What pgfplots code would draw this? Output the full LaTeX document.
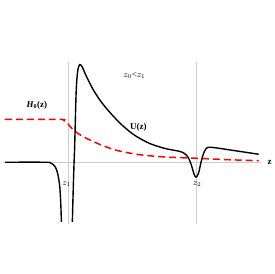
\documentclass[border=0pt]{standalone}
\usepackage{pgfplots}
\pgfplotsset{compat=1.18}
\usepackage{fontspec}
\setmainfont{Liberation Serif}
\begin{document}
\begin{tikzpicture}
\begin{axis}[hide axis, scale only axis, width=275pt, height=275pt,
  xmin=0, xmax=275, ymin=-112, ymax=163, clip=false]
\addplot[draw=none] coordinates {(0,-112) (275,163)};
% axes
\addplot[gray!40, line width=0.6pt] coordinates {(5,0) (262,0)};
\addplot[gray!40, line width=0.6pt] coordinates {(69,101) (69,-62)};
\addplot[gray!40, line width=0.6pt] coordinates {(197,101) (197,-62)};
% H0
\addplot[red, line width=1.5pt, dash pattern=on 7pt off 4pt, smooth] coordinates {
(5,43) (60,43) (64,42) (68,39) (73,33) (83,26) (100,18) (117,12) (137,8) (150,6.5) (170,5) (197,4) (230,2.5) (260,1.5)};
% U left
\addplot[black, line width=1.4pt, smooth] coordinates {
(5,0) (45,0) (50,-0.3) (53,-2) (55,-4) (57,-8) (58.5,-14) (60,-24) (61,-40) (61.7,-60)};
% U right
\addplot[black, line width=1.4pt, smooth] coordinates {
(72.7,-60) (73.3,-37) (74.3,-4) (75,15) (76.5,70) (78,91) (80,98) (82.5,96) (86,88) (93,74) (100,63) (107,54) (115,45) (123,37) (130,31) (137,26) (150,19) (165,14) (180,11) (185,9) (189,5) (192,-2) (195,-12) (197,-15) (199.5,-11) (202,0) (205,10) (208,14.5) (212,15) (220,14) (240,11) (260,8)};
\node[font=\fontsize{9}{10}\selectfont\bfseries] at (axis cs:271,0) {z};
\node[font=\fontsize{9}{10}\selectfont\bfseries] at (axis cs:37,57) {\textit{H}$_{\mathbf{0}}$(z)};
\node[font=\fontsize{9}{10}\selectfont\bfseries] at (axis cs:139,35) {U(z)};
\node[font=\fontsize{9}{10}\selectfont] at (axis cs:135,87) {$z_0$<$z_1$};
\node[font=\fontsize{9}{10}\selectfont] at (axis cs:67,-22) {$z_1$};
\node[font=\fontsize{9}{10}\selectfont] at (axis cs:198,-22) {$z_2$};
\end{axis}
\end{tikzpicture}
\end{document}
